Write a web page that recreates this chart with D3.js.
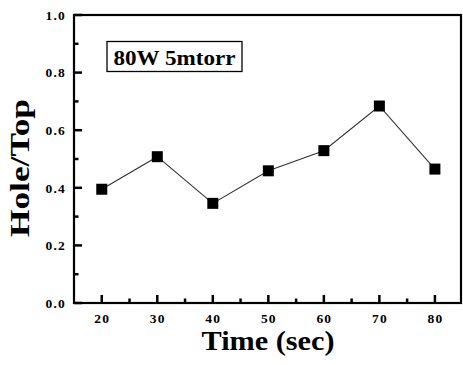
<!DOCTYPE html>
<html><head><meta charset="utf-8">
<script src="https://cdn.jsdelivr.net/npm/d3@7"></script>
<style>body{margin:0;background:#fff}svg{display:block}</style>
</head><body>
<svg id="c" width="463" height="365"></svg>
<script>
const times = [20, 30, 40, 50, 60, 70, 80];
const holeTop = [0.395, 0.508, 0.346, 0.459, 0.529, 0.684, 0.465];
const xTicks = [20, 30, 40, 50, 60, 70, 80];
const yTicks = [0.0, 0.2, 0.4, 0.6, 0.8, 1.0];
const label = "80W 5mtorr";
const xTitle = "Time (sec)";
const yTitle = "Hole/Top";

const svg = d3.select("#c");
const L = 74, R = 461, T = 15, B = 303;
const font = "'Liberation Serif','Times New Roman',serif";
const x = d3.scaleLinear().domain([15, 84.7]).range([L, R]);
const y = d3.scaleLinear().domain([0, 1]).range([B, T]);

const xMinor = [25, 35, 45, 55, 65, 75];
const yMinor = [0.1, 0.3, 0.5, 0.7, 0.9];

const xAxis = d3.axisBottom(x).tickValues(xTicks).tickSize(0).tickPadding(10).tickFormat(d3.format("d"));
const gx = svg.append("g").attr("transform", `translate(0,${B})`).call(xAxis);
const yAxis = d3.axisLeft(y).tickValues(yTicks).tickSize(0).tickPadding(8).tickFormat(d3.format(".1f"));
const gy = svg.append("g").attr("transform", `translate(${L},0)`).call(yAxis);
[gx, gy].forEach(g => {
  g.select(".domain").remove();
  g.selectAll(".tick line").remove();
  g.selectAll(".tick text").attr("font-family", font).attr("font-weight", "bold")
    .attr("font-size", 13.5).attr("letter-spacing", 1.2).attr("fill", "#000");
});

svg.append("rect").attr("x", L).attr("y", T).attr("width", R - L).attr("height", B - T)
  .attr("fill", "none").attr("stroke", "#000").attr("stroke-width", 2.2);

const ticks = svg.append("g").attr("stroke", "#000").attr("stroke-width", 2.5);
ticks.selectAll("line.xM").data(xTicks).join("line").attr("class", "xM")
  .attr("x1", d => x(d)).attr("x2", d => x(d)).attr("y1", B).attr("y2", B - 8);
ticks.selectAll("line.xm").data(xMinor).join("line").attr("class", "xm")
  .attr("x1", d => x(d)).attr("x2", d => x(d)).attr("y1", B).attr("y2", B - 4.5);
ticks.selectAll("line.yM").data(yTicks).join("line").attr("class", "yM")
  .attr("y1", d => y(d)).attr("y2", d => y(d)).attr("x1", L).attr("x2", L + 8);
ticks.selectAll("line.ym").data(yMinor).join("line").attr("class", "ym")
  .attr("y1", d => y(d)).attr("y2", d => y(d)).attr("x1", L).attr("x2", L + 4.5);

const pts = times.map((t, i) => [t, holeTop[i]]);
svg.append("path").datum(pts)
  .attr("d", d3.line().x(d => x(d[0])).y(d => y(d[1])))
  .attr("fill", "none").attr("stroke", "#333").attr("stroke-width", 1.1);
svg.append("g").selectAll("rect").data(pts).join("rect")
  .attr("x", d => x(d[0]) - 5.5).attr("y", d => y(d[1]) - 5.5)
  .attr("width", 11).attr("height", 11).attr("fill", "#000");

svg.append("rect").attr("x", 107).attr("y", 41.5).attr("width", 135).attr("height", 30)
  .attr("fill", "#fff").attr("stroke", "#000").attr("stroke-width", 1.3);
svg.append("text").attr("x", 174.5).attr("y", 64.5).attr("text-anchor", "middle")
  .attr("font-family", font).attr("font-weight", "bold").attr("font-size", 22)
  .attr("textLength", 122).attr("lengthAdjust", "spacingAndGlyphs")
  .text(label);

svg.append("text").attr("x", 268).attr("y", 350).attr("text-anchor", "middle")
  .attr("font-family", font).attr("font-weight", "bold").attr("font-size", 27)
  .attr("textLength", 133).attr("lengthAdjust", "spacingAndGlyphs")
  .text(xTitle);
svg.append("text").attr("transform", `translate(29,168) rotate(-90)`).attr("text-anchor", "middle")
  .attr("font-family", font).attr("font-weight", "bold").attr("font-size", 28)
  .attr("textLength", 138).attr("lengthAdjust", "spacingAndGlyphs")
  .text(yTitle);
</script>
</body></html>
